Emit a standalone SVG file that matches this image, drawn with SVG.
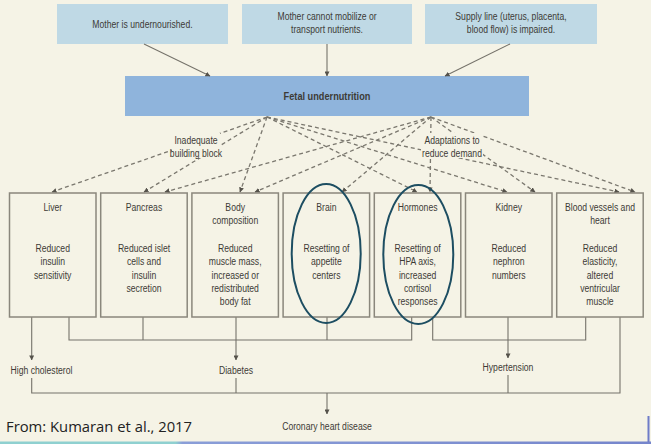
<svg xmlns="http://www.w3.org/2000/svg" width="651" height="444" viewBox="0 0 651 444">
<defs>
<style>
text{font-family:"Liberation Sans",Arial,sans-serif;font-size:10.8px;fill:#3d3b36;text-anchor:middle;transform-box:fill-box;transform-origin:center;transform:scaleX(0.8)}
text.src{font-family:"Open Sans","Liberation Sans",sans-serif;font-size:14.8px;fill:#222;text-anchor:start;transform:none}
.top{fill:#bfd9e5}
.fetal{fill:#8fb4dc}
.org{fill:#f5f3e6;stroke:#8a877c;stroke-width:1.5}
.dash{fill:none;stroke:#7a776e;stroke-width:1.3;stroke-dasharray:4,3;marker-end:url(#ah)}
.sol{fill:none;stroke:#75726a;stroke-width:1.1}
.arr{marker-end:url(#ah)}
.ell{fill:none;stroke:#1d4e62;stroke-width:2}
.ko{fill:#f5f3e6}
</style>
<marker id="ah" viewBox="0 0 6 6" refX="5.5" refY="3" markerWidth="5" markerHeight="5" markerUnits="userSpaceOnUse" orient="auto"><path d="M0,0 L6,3 L0,6 Z" fill="#55524b"/></marker>
<linearGradient id="bar" x1="0" x2="1" y1="0" y2="0"><stop offset="0" stop-color="#8fd0d0"/><stop offset="0.27" stop-color="#8fd0d0"/><stop offset="0.28" stop-color="#8a9ed8"/><stop offset="1" stop-color="#7585cc"/></linearGradient>
</defs>
<rect x="0" y="0" width="651" height="444" fill="#f5f3e6"/>

<g id="n-mother-undernourished"><rect class="top" x="57" y="4" width="171" height="40"/><text x="142.5" y="28">Mother is undernourished.</text></g>
<g id="n-mother-cannot"><rect class="top" x="242" y="4" width="170" height="40"/><text x="327" y="20">Mother cannot mobilize or</text><text x="327" y="33">transport nutrients.</text></g>
<g id="n-supply-line"><rect class="top" x="425" y="4" width="172" height="40"/><text x="511" y="20">Supply line (uterus, placenta,</text><text x="511" y="33">blood flow) is impaired.</text></g>
<g id="n-fetal"><rect class="fetal" x="125" y="76" width="404" height="40"/><text x="327" y="100" style="font-weight:bold;font-size:11.5px">Fetal undernutrition</text></g>

<g id="connectors">
<path class="sol arr" d="M144,44 L210,76"/>
<path class="sol arr" d="M327,44 L327,76"/>
<path class="sol arr" d="M510,44 L445,76"/>
<path class="dash" d="M267,117 L52,192"/>
<path class="dash" d="M267,117 L144,192"/>
<path class="dash" d="M267,117 L240,192"/>
<path class="dash" d="M267,117 L417,192"/>
<path class="dash" d="M267,117 L507,192"/>
<path class="dash" d="M267,117 L619,192"/>
<path class="dash" d="M431,117 L165,192"/>
<path class="dash" d="M431,117 L255,192"/>
<path class="dash" d="M431,117 L342,192"/>
<path class="dash" d="M431,117 L430,192"/>
<path class="dash" d="M431,117 L535,192"/>
<path class="dash" d="M431,117 L635,192"/>
<path class="sol arr" d="M31.7,317 V360"/>
<path class="sol" d="M69,317 V340 H411.7 V317"/>
<path class="sol" d="M143,317 V340"/>
<path class="sol" d="M327,317 V340"/>
<path class="sol arr" d="M236,317 V360"/>
<path class="sol" d="M432.7,317 V340 H585.7 V317"/>
<path class="sol arr" d="M508,317 V358"/>
<path class="sol" d="M620,317 V393 H31.7 V378"/>
<path class="sol" d="M236,378 V393"/>
<path class="sol" d="M508,375 V393"/>
<path class="sol arr" d="M327,393 V414"/>
</g>

<g id="labels">
<rect class="ko" x="172" y="133" width="48" height="25"/>
<text x="196" y="144.5">Inadequate</text>
<text x="196" y="157.5">building block</text>
<rect class="ko" x="421" y="133" width="62" height="25"/>
<text x="452" y="144.5">Adaptations to</text>
<text x="452" y="157.5">reduce demand</text>
</g>

<g id="n-liver"><rect class="org" x="9.5" y="193" width="86.5" height="124"/><text x="52.7" y="211">Liver</text><text x="52.7" y="252">Reduced</text><text x="52.7" y="265.3">insulin</text><text x="52.7" y="278.6">sensitivity</text></g>
<g id="n-pancreas"><rect class="org" x="100.7" y="193" width="86.5" height="124"/><text x="144" y="211">Pancreas</text><text x="144" y="252">Reduced islet</text><text x="144" y="265.3">cells and</text><text x="144" y="278.6">insulin</text><text x="144" y="291.9">secretion</text></g>
<g id="n-body"><rect class="org" x="191.9" y="193" width="86.5" height="124"/><text x="235.2" y="211">Body</text><text x="235.2" y="224.5">composition</text><text x="235.2" y="252">Reduced</text><text x="235.2" y="265.3">muscle mass,</text><text x="235.2" y="278.6">increased or</text><text x="235.2" y="291.9">redistributed</text><text x="235.2" y="305.2">body fat</text></g>
<g id="n-brain"><rect class="org" x="283.1" y="193" width="86.5" height="124"/><text x="326.4" y="211">Brain</text><text x="326.4" y="252">Resetting of</text><text x="326.4" y="265.3">appetite</text><text x="326.4" y="278.6">centers</text></g>
<g id="n-hormones"><rect class="org" x="374.3" y="193" width="86.5" height="124"/><text x="417.6" y="211">Hormones</text><text x="417.6" y="252">Resetting of</text><text x="417.6" y="265.3">HPA axis,</text><text x="417.6" y="278.6">increased</text><text x="417.6" y="291.9">cortisol</text><text x="417.6" y="305.2">responses</text></g>
<g id="n-kidney"><rect class="org" x="465.5" y="193" width="86.5" height="124"/><text x="508.8" y="211">Kidney</text><text x="508.8" y="252">Reduced</text><text x="508.8" y="265.3">nephron</text><text x="508.8" y="278.6">numbers</text></g>
<g id="n-blood"><rect class="org" x="556.7" y="193" width="86.5" height="124"/><text x="600" y="211">Blood vessels and</text><text x="600" y="224.5">heart</text><text x="600" y="252">Reduced</text><text x="600" y="265.3">elasticity,</text><text x="600" y="278.6">altered</text><text x="600" y="291.9">ventricular</text><text x="600" y="305.2">muscle</text></g>

<g id="n-high-chol"><text x="41.5" y="374.5">High cholesterol</text></g>
<g id="n-diabetes"><text x="236" y="374.5">Diabetes</text></g>
<g id="n-hypertension"><text x="508" y="371.5">Hypertension</text></g>
<g id="n-chd"><text x="327" y="430">Coronary heart disease</text></g>

<g id="highlights">
<ellipse class="ell" cx="326.2" cy="253.5" rx="34.5" ry="69.5"/>
<ellipse class="ell" cx="418.3" cy="254.5" rx="35" ry="69.5"/>
</g>

<text class="src" x="6" y="432">From: Kumaran et al., 2017</text>
<rect x="0" y="441.5" width="651" height="2.5" fill="url(#bar)"/>
<rect x="647.5" y="416" width="2" height="26" fill="#6f7cc8"/>
</svg>
